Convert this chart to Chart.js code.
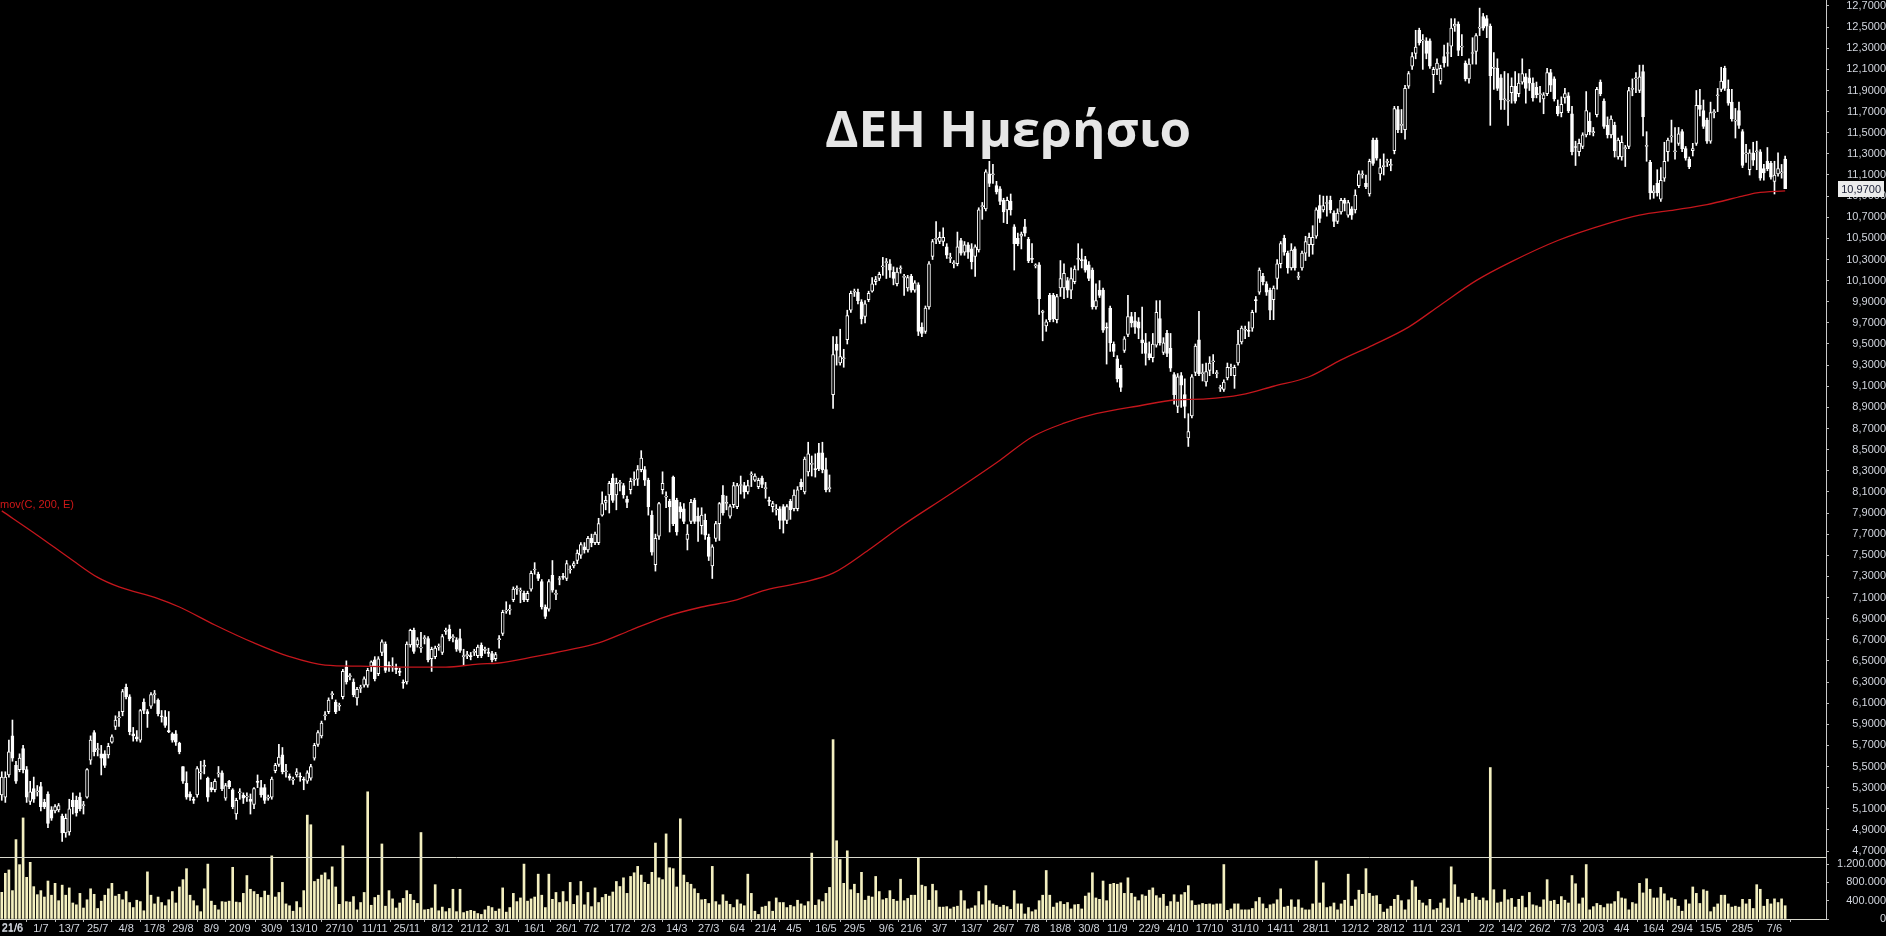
<!DOCTYPE html>
<html>
<head>
<meta charset="utf-8">
<title>ΔΕΗ Ημερήσιο</title>
<script src="https://cdn.jsdelivr.net/npm/chart.js@4.4.1/dist/chart.umd.min.js"></script>
<style>
  html, body { margin: 0; padding: 0; background: #000; overflow: hidden; }
  #wrap { width: 1886px; height: 936px; }
</style>
</head>
<body>
<div id="wrap"><canvas id="chart" width="1886" height="936"></canvas></div>
<script>
// ΔΕΗ ημερήσιο - candles, EMA 200, volume

const opens = [
  5.23,5.21,5.42,5.79,5.51,5.47,5.67,5.47,5.17,5.29, 5.26,5.31,5.16,5.24,5.09,5.08,5.09,5.03,4.87,4.88,
  5.18,5.18,5.21,5.13,5.21,5.56,5.82,5.66,5.62,5.62, 5.61,5.73,5.88,5.96,6.02,6.25,6.16,5.81,5.78,5.75,
  6.11,6.02,6.07,6.18,6.13,5.98,5.97,5.84,5.81,5.81, 5.72,5.50,5.34,5.24,5.19,5.23,5.44,5.50,5.39,5.30,
  5.28,5.43,5.44,5.20,5.36,5.28,5.05,5.25,5.23,5.21, 5.19,5.14,5.36,5.30,5.30,5.20,5.21,5.46,5.52,5.61,
  5.45,5.41,5.37,5.42,5.41,5.38,5.36,5.39,5.58,5.71, 5.79,5.98,6.02,6.18,6.11,6.07,6.16,6.44,6.35,6.30,
  6.15,6.24,6.27,6.27,6.45,6.51,6.38,6.58,6.66,6.46, 6.44,6.43,6.40,6.30,6.30,6.65,6.79,6.65,6.62,6.71,
  6.71,6.52,6.54,6.63,6.58,6.78,6.80,6.72,6.70,6.71, 6.54,6.55,6.55,6.58,6.55,6.65,6.60,6.58,6.57,6.52,
  6.70,6.76,6.97,6.98,7.08,7.18,7.16,7.14,7.08,7.18, 7.36,7.32,7.25,7.01,6.99,7.31,7.13,7.27,7.30,7.28,
  7.36,7.40,7.45,7.50,7.58,7.55,7.66,7.62,7.62,7.88, 8.00,8.07,8.23,8.07,8.18,8.16,8.03,8.12,8.21,8.22,
  8.31,8.31,8.21,7.88,7.41,7.68,8.12,8.05,8.01,8.24, 8.02,7.96,7.94,7.65,7.82,8.02,7.87,7.78,7.83,7.67,
  7.40,7.66,7.80,8.07,7.99,7.87,7.98,7.96,8.16,8.16, 8.10,8.26,8.21,8.15,8.23,8.13,8.02,7.96,7.93,7.94,
  7.96,7.83,8.01,7.94,7.94,8.19,8.10,8.29,8.36,8.32, 8.47,8.47,8.31,8.13,9.02,9.50,9.32,9.36,9.54,9.82,
  9.99,9.99,9.90,9.76,9.92,10.00,10.09,10.12,10.23,10.27, 10.26,10.18,10.07,10.21,10.13,10.03,10.14,10.01,10.06,9.66,
  9.62,9.85,10.33,10.49,10.47,10.47,10.42,10.31,10.26,10.26, 10.48,10.37,10.44,10.40,10.33,10.39,10.80,10.78,11.11,11.10,
  11.00,10.97,10.86,10.77,10.85,10.61,10.50,10.52,10.61,10.49, 10.31,10.24,10.25,9.80,9.67,9.96,9.96,9.73,10.03,10.03,
  10.10,10.01,10.09,10.30,10.30,10.30,10.25,10.20,9.85,10.01, 10.01,9.66,9.84,9.50,9.36,9.27,9.44,9.59,9.76,9.72,
  9.71,9.54,9.51,9.41,9.37,9.49,9.74,9.42,9.60,9.46, 9.21,8.91,9.20,9.02,8.61,8.82,9.23,9.54,9.22,9.14,
  9.25,9.33,9.22,9.08,9.07,9.18,9.27,9.20,9.32,9.52, 9.63,9.63,9.65,9.92,9.99,10.14,10.07,10.01,9.92,10.12,
  10.26,10.50,10.36,10.22,10.40,10.13,10.22,10.36,10.44,10.44, 10.52,10.81,10.77,10.83,10.86,10.74,10.66,10.75,10.86,10.72,
  10.78,10.77,11.00,11.10,11.02,10.92,11.43,11.43,11.11,11.18, 11.22,11.19,11.33,11.72,11.57,11.53,11.94,12.13,12.25,12.47,
  12.37,12.37,12.37,12.05,12.10,11.99,12.22,12.25,12.32,12.51, 12.53,12.31,12.16,12.01,12.25,12.27,12.49,12.60,12.58,12.51,
  12.11,12.11,12.02,11.81,11.80,11.88,11.94,11.87,11.98,12.03, 12.02,11.97,11.93,11.86,11.82,11.87,12.07,12.01,11.75,11.69,
  11.83,11.85,11.68,11.37,11.32,11.37,11.48,11.61,11.50,11.67, 11.98,11.80,11.57,11.48,11.57,11.27,11.27,11.35,11.37,11.91,
  12.01,11.90,12.08,11.37,11.22,10.93,11.02,10.87,11.07,11.32, 11.46,11.32,11.40,11.51,11.35,11.25,11.33,11.40,11.76,11.71,
  11.62,11.42,11.69,11.85,11.91,12.11,11.91,11.79,11.61,11.71, 11.51,11.30,11.15,11.31,11.32,11.32,11.16,11.23,11.21,11.04,
  11.11,11.12,11.25
];

const highs = [
  5.45,5.45,5.75,5.94,5.55,5.62,5.70,5.50,5.36,5.40, 5.32,5.35,5.19,5.26,5.12,5.14,5.15,5.05,5.05,5.19,
  5.25,5.22,5.25,5.17,5.48,5.79,5.84,5.72,5.70,5.65, 5.72,5.80,5.98,6.02,6.23,6.28,6.18,5.87,5.84,6.04,
  6.14,6.04,6.20,6.22,6.14,6.03,6.03,6.02,5.82,5.84, 5.73,5.50,5.45,5.26,5.21,5.50,5.55,5.56,5.40,5.35,
  5.38,5.50,5.46,5.34,5.37,5.29,5.20,5.29,5.25,5.25, 5.24,5.30,5.42,5.37,5.33,5.23,5.40,5.53,5.71,5.68,
  5.52,5.43,5.40,5.48,5.44,5.40,5.46,5.52,5.72,5.84, 5.93,6.02,6.15,6.21,6.13,6.10,6.42,6.50,6.38,6.33,
  6.25,6.27,6.35,6.43,6.50,6.54,6.54,6.70,6.68,6.49, 6.53,6.47,6.43,6.32,6.68,6.80,6.81,6.72,6.77,6.74,
  6.73,6.63,6.64,6.66,6.75,6.81,6.84,6.75,6.72,6.80, 6.61,6.59,6.58,6.61,6.65,6.67,6.63,6.62,6.59,6.58,
  6.74,6.98,7.06,7.03,7.20,7.21,7.19,7.16,7.16,7.35, 7.43,7.34,7.27,7.03,7.27,7.45,7.17,7.30,7.33,7.45,
  7.40,7.44,7.55,7.62,7.62,7.68,7.70,7.72,7.85,8.10, 8.06,8.20,8.27,8.23,8.21,8.18,8.06,8.23,8.29,8.35,
  8.49,8.34,8.23,7.92,7.70,8.00,8.29,8.10,8.03,8.25, 8.04,8.00,7.99,7.79,8.03,8.04,7.95,7.95,7.89,7.70,
  7.60,7.82,8.00,8.16,8.06,7.98,8.19,8.18,8.25,8.19, 8.21,8.29,8.27,8.23,8.25,8.19,8.05,8.01,7.98,7.96,
  7.98,7.98,8.03,8.12,8.15,8.22,8.43,8.57,8.44,8.46, 8.56,8.57,8.42,8.26,9.57,9.57,9.64,9.45,9.82,10.00,
  10.02,10.02,9.92,9.91,10.00,10.13,10.14,10.18,10.32,10.31, 10.30,10.23,10.22,10.24,10.16,10.15,10.16,10.10,10.08,9.70,
  9.86,10.28,10.49,10.66,10.56,10.60,10.45,10.36,10.29,10.56, 10.50,10.47,10.46,10.45,10.44,10.79,10.84,11.15,11.23,11.20,
  11.04,10.99,10.88,10.89,10.92,10.63,10.55,10.56,10.68,10.51, 10.45,10.26,10.27,9.82,9.73,9.98,9.98,9.97,10.29,10.26,
  10.13,10.22,10.24,10.45,10.40,10.33,10.28,10.22,10.07,10.10, 10.03,9.70,9.86,9.52,9.39,9.30,9.57,9.96,9.80,9.80,
  9.75,9.85,9.60,9.52,9.60,9.91,9.91,9.56,9.63,9.60, 9.23,9.22,9.23,9.17,8.84,9.21,9.50,9.81,9.31,9.32,
  9.38,9.40,9.25,9.11,9.16,9.32,9.31,9.30,9.63,9.67, 9.67,9.71,9.82,9.95,10.22,10.17,10.09,10.03,10.05,10.30,
  10.47,10.53,10.38,10.45,10.42,10.18,10.38,10.52,10.55,10.62, 10.79,10.91,10.90,10.90,10.90,10.76,10.78,10.88,10.88,10.86,
  10.80,10.96,11.14,11.14,11.10,11.25,11.45,11.45,11.25,11.30, 11.25,11.25,11.75,11.75,11.72,11.95,12.08,12.26,12.47,12.49,
  12.43,12.40,12.39,12.12,12.20,12.14,12.33,12.35,12.58,12.58, 12.55,12.43,12.18,12.20,12.40,12.44,12.68,12.63,12.61,12.53,
  12.26,12.20,12.05,12.08,12.06,12.02,12.08,12.06,12.20,12.06, 12.10,12.02,11.98,11.94,11.88,12.11,12.10,12.03,11.81,11.84,
  11.92,11.88,11.75,11.42,11.44,11.50,11.89,11.69,11.55,11.93, 12.00,11.82,11.65,11.66,11.60,11.45,11.47,11.38,11.93,12.01,
  12.07,12.14,12.14,11.51,11.24,11.00,11.15,11.17,11.41,11.45, 11.62,11.55,11.55,11.53,11.37,11.27,11.40,11.90,11.91,11.81,
  11.64,11.79,11.72,11.92,12.12,12.13,12.00,11.91,11.73,11.79, 11.53,11.39,11.34,11.41,11.42,11.34,11.20,11.36,11.23,11.23,
  11.31,11.20,11.28
];

const lows = [
  5.18,5.16,5.40,5.55,5.34,5.45,5.44,5.16,5.14,5.16, 5.22,5.08,5.10,4.92,4.99,5.06,5.07,4.79,4.83,4.85,
  5.05,5.03,5.08,5.05,5.20,5.52,5.60,5.60,5.42,5.49, 5.58,5.72,5.85,5.88,5.98,6.14,5.80,5.74,5.74,5.73,
  6.00,5.87,6.05,6.10,5.98,5.92,5.87,5.82,5.73,5.70, 5.62,5.34,5.19,5.18,5.15,5.21,5.38,5.43,5.17,5.26,
  5.26,5.40,5.27,5.18,5.29,5.10,5.00,5.19,5.15,5.17, 5.05,5.10,5.30,5.21,5.15,5.18,5.19,5.44,5.50,5.43,
  5.40,5.37,5.33,5.40,5.36,5.28,5.34,5.37,5.56,5.69, 5.77,5.94,6.00,6.14,6.00,6.03,6.14,6.28,6.32,6.16,
  6.08,6.20,6.25,6.25,6.40,6.31,6.36,6.55,6.39,6.40, 6.40,6.38,6.36,6.24,6.28,6.63,6.57,6.63,6.58,6.66,
  6.49,6.40,6.52,6.60,6.56,6.75,6.69,6.68,6.59,6.58, 6.46,6.52,6.51,6.55,6.53,6.53,6.57,6.54,6.49,6.50,
  6.62,6.74,6.95,6.94,7.06,7.13,7.05,7.06,7.06,7.16, 7.32,7.26,6.99,6.90,6.97,7.15,7.08,7.22,7.27,7.26,
  7.33,7.38,7.42,7.47,7.52,7.53,7.58,7.60,7.60,7.87, 7.93,7.90,8.00,7.93,8.11,8.04,7.95,8.08,8.16,8.16,
  8.29,8.16,7.88,7.50,7.35,7.65,8.08,7.95,7.72,7.78, 7.69,7.85,7.80,7.55,7.80,7.80,7.63,7.70,7.65,7.45,
  7.28,7.63,7.64,7.88,7.93,7.85,7.95,7.94,8.08,8.04, 8.08,8.15,8.20,8.13,8.14,8.04,7.97,7.91,7.88,7.75,
  7.71,7.80,7.84,7.92,7.92,8.12,8.08,8.25,8.25,8.24, 8.30,8.28,8.10,8.10,8.89,9.30,9.30,9.28,9.50,9.80,
  9.95,9.88,9.69,9.70,9.90,9.99,10.06,10.10,10.15,10.12, 10.13,10.06,10.05,10.17,9.96,10.00,9.99,9.99,9.58,9.57,
  9.60,9.83,10.30,10.45,10.45,10.43,10.31,10.27,10.22,10.24, 10.34,10.34,10.31,10.21,10.14,10.37,10.68,10.76,10.99,11.02,
  10.92,10.82,10.65,10.64,10.72,10.20,10.43,10.40,10.52,10.27, 10.27,10.22,9.78,9.53,9.62,9.71,9.71,9.70,9.95,9.93,
  9.94,9.93,10.07,10.20,10.22,10.18,10.10,9.83,9.83,9.94, 9.61,9.31,9.43,9.38,9.14,9.05,9.42,9.57,9.66,9.60,
  9.55,9.41,9.30,9.35,9.33,9.47,9.49,9.40,9.38,9.24, 8.93,8.85,8.90,8.80,8.53,8.80,9.20,9.20,9.15,9.10,
  9.20,9.22,9.18,9.05,9.05,9.16,9.20,9.08,9.30,9.50, 9.55,9.57,9.62,9.80,9.97,10.06,9.96,9.73,9.73,10.02,
  10.22,10.34,10.17,10.20,10.20,10.11,10.20,10.29,10.33,10.35, 10.50,10.65,10.75,10.71,10.74,10.61,10.64,10.73,10.76,10.70,
  10.68,10.74,10.98,11.07,10.97,10.90,11.19,11.24,11.05,11.10, 11.18,11.14,11.30,11.50,11.50,11.44,11.92,12.10,12.20,12.33,
  12.10,12.20,12.11,11.88,12.05,11.96,12.12,12.13,12.22,12.46, 12.23,12.23,11.99,11.97,12.15,12.15,12.42,12.47,12.40,11.57,
  11.91,11.90,11.72,11.72,11.57,11.78,11.78,11.84,11.96,11.78, 11.90,11.80,11.83,11.79,11.68,11.85,11.89,11.80,11.66,11.65,
  11.78,11.69,11.29,11.19,11.28,11.35,11.46,11.48,11.47,11.65, 11.85,11.54,11.45,11.45,11.27,11.25,11.24,11.18,11.35,11.85,
  11.88,11.88,11.47,11.23,10.87,10.88,10.90,10.85,11.04,11.23, 11.41,11.25,11.38,11.32,11.24,11.16,11.28,11.38,11.66,11.54,
  11.40,11.40,11.64,11.70,11.89,11.90,11.76,11.61,11.45,11.54, 11.17,11.22,11.10,11.19,11.15,11.05,11.05,11.14,11.06,10.92,
  11.09,11.07,10.97
];

const closes = [
  5.40,5.40,5.64,5.58,5.36,5.58,5.47,5.21,5.26,5.19, 5.27,5.12,5.12,4.96,5.01,5.12,5.13,4.87,5.01,5.10,
  5.12,5.06,5.10,5.14,5.47,5.75,5.64,5.67,5.58,5.51, 5.69,5.78,5.94,5.97,6.21,6.16,5.83,5.79,5.76,6.03,
  6.03,6.00,6.18,6.19,6.00,5.97,5.89,5.83,5.75,5.73, 5.64,5.36,5.21,5.21,5.18,5.48,5.45,5.51,5.21,5.28,
  5.36,5.44,5.29,5.32,5.31,5.12,5.18,5.26,5.20,5.22, 5.17,5.29,5.35,5.23,5.18,5.21,5.38,5.51,5.59,5.45,
  5.46,5.39,5.38,5.45,5.40,5.37,5.44,5.50,5.70,5.82, 5.91,5.99,6.13,6.19,6.02,6.08,6.40,6.30,6.36,6.18,
  6.23,6.25,6.33,6.41,6.49,6.33,6.52,6.68,6.41,6.45, 6.45,6.42,6.39,6.29,6.66,6.79,6.59,6.70,6.63,6.72,
  6.51,6.61,6.62,6.64,6.73,6.79,6.71,6.73,6.61,6.60, 6.55,6.56,6.54,6.59,6.63,6.55,6.61,6.57,6.51,6.56,
  6.71,6.96,6.98,6.99,7.18,7.19,7.17,7.08,7.14,7.33, 7.37,7.28,7.01,6.92,7.25,7.17,7.14,7.28,7.29,7.42,
  7.37,7.42,7.52,7.60,7.55,7.66,7.62,7.70,7.80,7.99, 8.02,8.18,8.02,8.18,8.19,8.07,8.00,8.20,8.22,8.31,
  8.42,8.21,7.96,7.53,7.66,7.99,8.18,8.06,7.96,7.80, 7.72,7.91,7.82,7.70,8.00,7.82,7.82,7.88,7.69,7.49,
  7.58,7.80,7.99,7.90,8.00,7.96,8.16,8.16,8.17,8.10, 8.16,8.27,8.25,8.21,8.17,8.14,8.01,7.99,7.94,7.83,
  7.83,7.96,7.93,8.07,8.12,8.15,8.41,8.46,8.37,8.31, 8.32,8.31,8.12,8.14,9.40,9.44,9.38,9.37,9.77,9.98,
  10.00,9.91,9.74,9.88,9.98,10.07,10.11,10.16,10.24,10.28, 10.20,10.12,10.18,10.22,10.14,10.13,10.01,10.08,9.62,9.60,
  9.84,10.26,10.47,10.50,10.51,10.51,10.34,10.32,10.27,10.42, 10.36,10.44,10.37,10.28,10.42,10.77,10.81,11.13,11.02,11.11,
  10.94,10.85,10.75,10.86,10.77,10.45,10.45,10.54,10.55,10.29, 10.30,10.25,9.93,9.81,9.71,9.73,9.74,9.95,10.12,10.17,
  10.01,10.12,10.21,10.31,10.29,10.20,10.12,9.85,9.91,9.96, 9.63,9.65,9.51,9.43,9.17,9.09,9.55,9.76,9.70,9.66,
  9.65,9.51,9.41,9.37,9.50,9.80,9.51,9.51,9.41,9.27, 9.02,9.19,9.11,8.91,8.67,9.19,9.48,9.22,9.23,9.24,
  9.32,9.34,9.23,9.09,9.14,9.28,9.28,9.28,9.50,9.65, 9.64,9.62,9.80,9.91,10.20,10.09,9.99,9.82,10.03,10.26,
  10.45,10.37,10.22,10.39,10.22,10.14,10.36,10.47,10.51,10.51, 10.77,10.69,10.81,10.84,10.77,10.66,10.74,10.86,10.83,10.84,
  10.72,10.91,11.11,11.11,10.99,11.23,11.21,11.26,11.17,11.19, 11.23,11.20,11.73,11.53,11.58,11.92,12.06,12.22,12.31,12.35,
  12.38,12.25,12.13,12.10,12.16,12.11,12.16,12.26,12.49,12.53, 12.28,12.32,12.01,12.15,12.26,12.42,12.50,12.49,12.51,12.04,
  12.12,11.92,11.81,11.82,11.81,11.94,11.80,11.97,12.06,11.92, 11.97,11.83,11.86,11.87,11.86,12.07,11.95,11.82,11.68,11.77,
  11.87,11.71,11.32,11.36,11.40,11.48,11.71,11.51,11.51,11.91, 11.87,11.56,11.48,11.63,11.33,11.43,11.41,11.36,11.90,11.92,
  12.02,12.03,11.65,11.38,10.93,10.95,10.93,11.05,11.23,11.43, 11.47,11.33,11.49,11.35,11.26,11.18,11.35,11.76,11.72,11.56,
  11.42,11.69,11.70,11.86,11.99,11.92,11.78,11.63,11.62,11.57, 11.19,11.31,11.31,11.24,11.33,11.07,11.12,11.16,11.08,11.10,
  11.16,11.13,10.97
];

// volume in thousands of shares
const volumes = [
  583,999,1072,620,1735,1188,2209,911,1239,707, 532,620,480,830,520,780,400,740,520,680,
  350,310,560,240,420,660,540,230,390,520, 660,780,500,540,420,600,360,250,410,380,
  180,1030,520,330,480,360,290,420,600,350, 700,860,1100,520,400,290,160,660,1200,390,
  300,200,380,370,390,1130,370,360,560,950, 650,600,540,470,610,520,1380,480,580,800,
  330,290,170,380,250,620,2270,2060,820,870, 960,1010,860,1140,700,320,1600,380,370,490,
  200,360,580,2780,300,470,520,1640,280,620, 440,240,350,450,620,540,410,340,1890,200,
  210,240,750,180,260,160,230,650,160,650, 140,170,190,170,120,100,200,280,250,170,
  220,680,150,250,560,380,460,1200,390,440, 480,980,520,250,980,430,580,360,600,380,
  800,320,510,820,310,580,270,680,360,470, 540,500,590,820,710,900,560,930,1010,1150,
  960,800,760,1020,1660,900,860,1860,1120,1100, 700,2190,960,800,760,660,560,420,430,340,
  1150,380,310,530,390,320,250,420,330,290, 980,560,170,100,260,280,380,170,460,360,
  360,250,300,270,410,330,290,380,1440,300, 420,380,560,690,3920,1710,1300,780,1490,640,
  760,560,1020,410,500,480,930,600,420,450, 620,430,390,870,400,450,520,520,1340,740,
  710,410,760,620,260,260,270,220,260,280, 620,400,220,240,290,600,310,730,400,330,
  300,260,300,270,210,620,330,330,110,250, 160,200,400,520,1060,520,260,350,380,320,
  360,220,310,320,220,500,570,1010,460,430, 830,400,760,780,760,790,560,900,560,480,
  400,530,500,630,680,510,460,540,280,380, 530,370,530,580,730,400,300,310,340,320,
  330,310,330,330,1190,190,220,330,330,200, 200,200,230,380,470,330,230,310,330,420,
  660,260,280,420,260,420,240,200,200,330, 1270,350,790,250,270,350,200,330,410,980,
  280,420,630,540,1100,560,500,510,320,150, 220,280,430,520,400,200,420,840,700,410,
  350,290,430,200,230,350,440,240,1140,750, 480,350,440,410,560,480,410,460,400,3310,
  640,350,370,640,420,450,260,430,500,250, 580,310,290,260,420,860,390,410,320,490,
  410,350,950,770,330,460,1190,200,270,340, 300,250,330,330,380,600,460,440,200,360,
  330,780,570,880,650,460,460,690,550,400, 460,430,280,170,420,330,700,560,340,640,
  610,160,260,330,520,520,330,260,280,260, 430,330,430,230,750,650,280,430,330,440,
  360,440,290
];

// EMA(200) read at these candle positions
const emaIdx = [0,10,20,27,33,44,50,60,71,81,91,101,115,125,134,140,150,159,168,177,187,197,206,215,225,234,
  244,253,267,281,290,299,308,321,330,339,349,358,368,377,386,396,405,415,425,438,452,461,471,480,490,494,502];
const emaVal = [7.92,7.69,7.45,7.29,7.20,7.09,7.01,6.84,6.67,6.54,6.46,6.45,6.44,6.44,6.47,6.48,6.54,6.60,6.67,6.79,6.92,7.01,7.07,7.17,7.24,7.33,
  7.55,7.77,8.08,8.40,8.62,8.75,8.84,8.92,8.97,8.98,9.02,9.10,9.19,9.35,9.49,9.66,9.87,10.10,10.28,10.48,10.64,10.72,10.77,10.82,10.90,10.93,10.95];

const xTickIdx = [3,11,19,27,35,43,51,59,67,76, 85,95,105,114,124,133,141,150,159,166,
  174,182,190,199,207,215,223,232,240,249, 256,264,273,282,290,298,306,314,323,331,
  340,350,360,370,381,391,400,408,418,425, 433,441,448,456,465,473,481,490,499];
const xTickText = ['21/6','1/7','13/7','25/7','4/8','17/8','29/8','8/9','20/9','30/9',
  '13/10','27/10','11/11','25/11','8/12','21/12','3/1','16/1','26/1','7/2',
  '17/2','2/3','14/3','27/3','6/4','21/4','4/5','16/5','29/5','9/6',
  '21/6','3/7','13/7','26/7','7/8','18/8','30/8','11/9','22/9','4/10',
  '17/10','31/10','14/11','28/11','12/12','28/12','11/1','23/1','2/2','14/2',
  '26/2','7/3','20/3','4/4','16/4','29/4','15/5','28/5','7/6'];

const priceTicks = [4.7,4.9,5.1,5.3,5.5,5.7,5.9,6.1,6.3,6.5,6.7,6.9,7.1,7.3,7.5,7.7,7.9,8.1,8.3,8.5,
  8.7,8.9,9.1,9.3,9.5,9.7,9.9,10.1,10.3,10.5,10.7,10.9,11.1,11.3,11.5,11.7,11.9,12.1,12.3,12.5,12.7];
const volTicks = [0, 400, 800, 1200];

const TITLE = 'ΔΕΗ Ημερήσιο';
const EMA_LABEL = 'mov(C, 200, E)';

// ------------------------------------------------------------------
const SLOTS = 514;               // candles + empty room on the right
const slots = Array.from({ length: SLOTS }, (_, i) => i);

const AXIS_TXT = '#d2d6de';
const LINE_COL = '#d8d8cc';
const axisFont = { family: 'Liberation Sans', size: 11 };

const fmtPrice = v => v.toFixed(4).replace('.', ',');
const fmtVol = v => String(Math.round(v * 1000)).replace(/\B(?=(\d{3})+(?!\d))/g, '.');
const fmtDate = v => {
    const k = xTickIdx.indexOf(v);
    return k < 0 ? '' : xTickText[k];
};

const overlay = {
    id: 'overlay',
    beforeDraw(chart) {
        const ctx = chart.ctx;
        ctx.save();
        ctx.fillStyle = '#000';
        ctx.fillRect(0, 0, chart.width, chart.height);
        ctx.restore();
    },
    afterDatasetsDraw(chart) {
        const { ctx, chartArea } = chart;
        const yv = chart.scales.yv;
        ctx.save();
        ctx.strokeStyle = LINE_COL;
        ctx.lineWidth = 1;
        ctx.beginPath();
        ctx.moveTo(chartArea.left, Math.round(yv.top) + 0.5);
        ctx.lineTo(chartArea.right, Math.round(yv.top) + 0.5);
        ctx.stroke();
        ctx.restore();
    },
    afterDraw(chart) {
        const { ctx } = chart;
        const y = chart.scales.y;
        const x = chart.scales.x;
        ctx.save();

        // EMA caption at the left edge
        ctx.font = '11px "Liberation Sans"';
        ctx.fillStyle = '#d01818';
        ctx.textBaseline = 'middle';
        ctx.textAlign = 'left';
        ctx.fillText(EMA_LABEL, 0, 505);

        // first date label at the left edge (the axis drops it here)
        ctx.fillStyle = AXIS_TXT;
        ctx.textAlign = 'center';
        ctx.textBaseline = 'top';
        ctx.fillText(xTickText[0], x.getPixelForValue(xTickIdx[0]), x.top + 3);

        // last price tag on the price axis
        const last = closes[closes.length - 1];
        const py = Math.round(y.getPixelForValue(last));
        ctx.fillStyle = '#ececec';
        ctx.fillRect(1838, py - 8, 46, 16);
        ctx.fillStyle = '#20243a';
        ctx.textAlign = 'right';
        ctx.textBaseline = 'middle';
        ctx.fillText(fmtPrice(last), 1881, py + 1);

        // title
        ctx.font = 'bold 51px "Open Sans"';
        ctx.fillStyle = '#e6e6e6';
        ctx.textAlign = 'center';
        ctx.textBaseline = 'alphabetic';
        ctx.fillText(TITLE, 1008, 147);
        ctx.restore();
    }
};

new Chart(document.getElementById('chart'), {
    type: 'bar',
    data: {
        labels: slots,
        datasets: [
            {
                type: 'line',
                label: 'ema',
                data: emaIdx.map((x, k) => ({ x: x, y: emaVal[k] })),
                yAxisID: 'y',
                borderColor: '#c4161c',
                borderWidth: 1.3,
                pointRadius: 0,
                cubicInterpolationMode: 'monotone',
                order: 0,
            },
            {
                label: 'body',
                data: opens.map((o, i) => [o, closes[i]]),
                yAxisID: 'y',
                backgroundColor: opens.map((o, i) => (closes[i] >= o ? '#000000' : '#ffffff')),
                borderColor: '#ffffff',
                borderWidth: 1,
                borderSkipped: false,
                barThickness: 3,
                minBarLength: 1,
                grouped: false,
                order: 1,
            },
            {
                label: 'wick',
                data: lows.map((l, i) => [l, highs[i]]),
                yAxisID: 'y',
                backgroundColor: '#ffffff',
                barThickness: 1,
                grouped: false,
                order: 2,
            },
            {
                label: 'volume',
                data: volumes,
                yAxisID: 'yv',
                backgroundColor: '#f4f0c0',
                barThickness: 2,
                grouped: false,
                clip: false,
                order: 3,
            },
        ],
    },
    options: {
        responsive: false,
        devicePixelRatio: 1,
        animation: false,
        events: [],
        layout: { padding: 0 },
        plugins: {
            legend: { display: false },
            tooltip: { enabled: false },
        },
        scales: {
            x: {
                type: 'category',
                offset: true,
                grid: { drawOnChartArea: false, drawTicks: true, tickLength: 3, color: '#b8b8b8' },
                border: { display: true, color: LINE_COL },
                ticks: {
                    autoSkip: false, maxRotation: 0, padding: 0,
                    color: AXIS_TXT, font: axisFont,
                    callback: v => fmtDate(v),
                },
                afterBuildTicks: s => { s.ticks = xTickIdx.map(v => ({ value: v })); },
                afterFit: s => { s.height = 17; s.paddingLeft = 0; s.paddingRight = 0; },
            },
            y: {
                type: 'linear',
                position: 'right',
                stack: 'main',
                stackWeight: 857,
                weight: 0,
                min: 4.6432,
                max: 12.7568,
                grid: { drawOnChartArea: false, drawTicks: true, tickLength: 3, color: '#b8b8b8' },
                border: { display: true, color: '#c8c8c8' },
                ticks: {
                    autoSkip: false, crossAlign: 'far', padding: 9,
                    color: AXIS_TXT, font: axisFont,
                    callback: v => fmtPrice(v),
                },
                afterBuildTicks: s => { s.ticks = priceTicks.map(v => ({ value: v })); },
                afterFit: s => { s.width = 60; s.paddingTop = 0; s.paddingBottom = 0; },
            },
            yv: {
                type: 'linear',
                position: 'right',
                stack: 'main',
                stackWeight: 62,
                weight: 1,
                min: 0,
                max: 1355,
                grid: { drawOnChartArea: false, drawTicks: true, tickLength: 3, color: '#b8b8b8' },
                border: { display: true, color: '#c8c8c8' },
                ticks: {
                    autoSkip: false, crossAlign: 'far', padding: 0,
                    color: AXIS_TXT, font: axisFont,
                    callback: v => fmtVol(v),
                },
                afterBuildTicks: s => { s.ticks = volTicks.map(v => ({ value: v })); },
                afterFit: s => { s.width = 60; s.paddingTop = 0; s.paddingBottom = 0; },
            },
        },
    },
    plugins: [overlay],
});
</script>
</body>
</html>
